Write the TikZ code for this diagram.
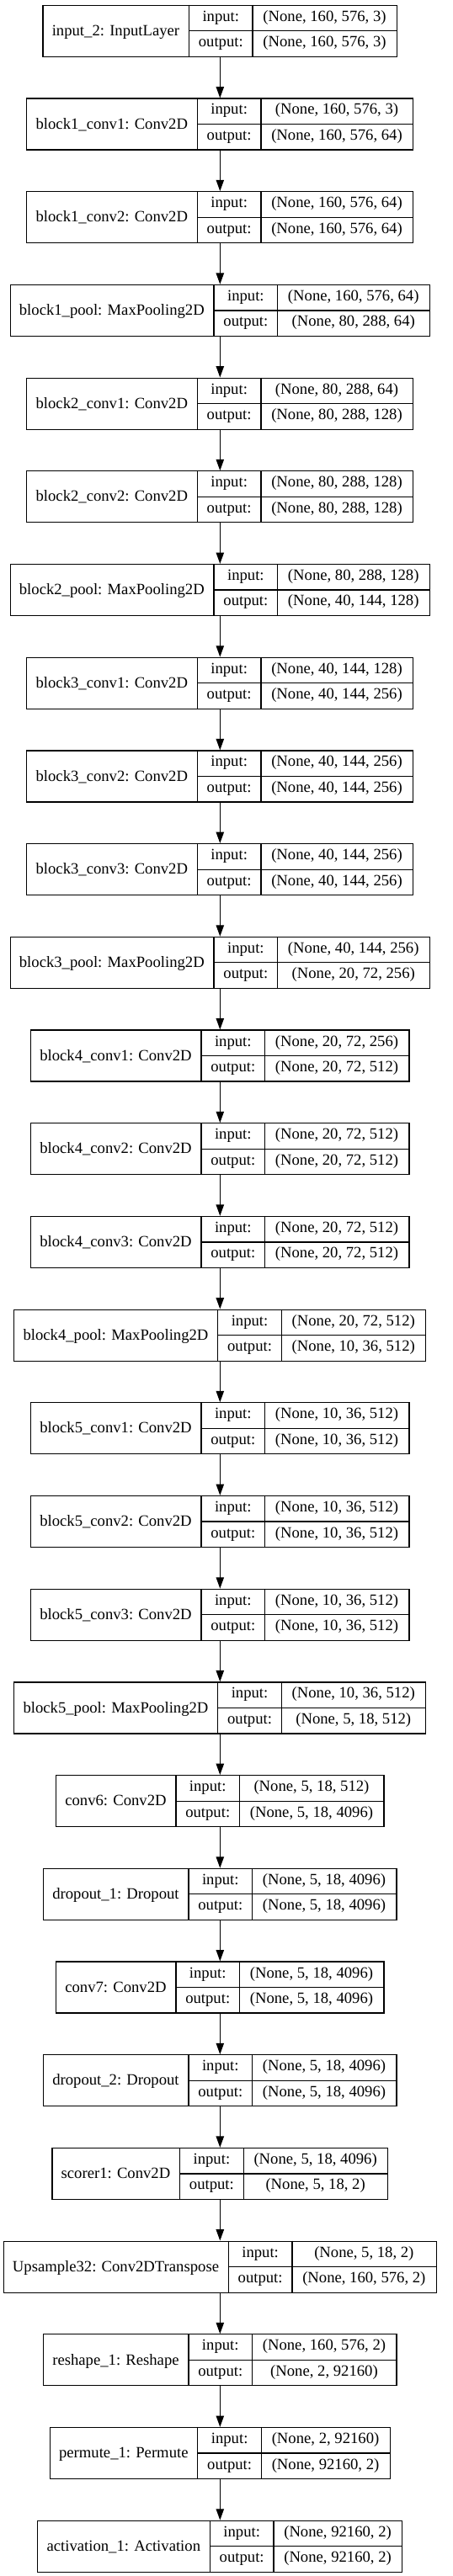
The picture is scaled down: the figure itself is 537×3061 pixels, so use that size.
\documentclass[tikz,border=0pt]{standalone}
\usepackage{fontspec}
\setmainfont{Liberation Serif}
\usepackage{tikz}
\usetikzlibrary{arrows.meta}

\newcommand\layerfont{\fontsize{14}{16.8}\selectfont}
\newlength\wname
\newlength\wio
\newlength\wval
\newlength\wtmp
\newlength\wmeas

% width of a text in the record font, plus padding
\newcommand\measure[3]{%
  \pgfinterruptpicture
    \settowidth\wmeas{\normalfont\layerfont #2}%
    \global#1=\dimexpr\wmeas+#3\relax
  \endpgfinterruptpicture}

% one record: id, top (px), name, input shape, output shape
\newcommand\layer[5]{%
  \measure\wname{#3}{17pt}%
  \measure\wio{output:}{17pt}%
  \measure\wval{#4}{18.5pt}%
  \measure\wtmp{#5}{18.5pt}%
  \ifdim\wtmp>\wval \global\wval=\wtmp\fi
  \node[record, minimum width=\wname+\wio+\wval] (#1) at (261.3,#2) {};
  \coordinate (#1-a) at ([xshift=\wname]#1.north west);
  \coordinate (#1-b) at ([xshift=\wname+\wio]#1.north west);
  \draw[rule] (#1-a) -- (#1-a |- #1.south);
  \draw[rule] (#1-b) -- (#1-b |- #1.south);
  \draw[rule] (#1-a |- #1.center) -- (#1.east);
  \node[nametxt] (#1-n) at ([xshift=.5\wname]#1.west) {#3};
  \node[celltxt] (#1-i) at ([xshift=.5\wio, yshift=-11.44pt]#1-a) {input:};
  \node[celltxt] (#1-o) at ([xshift=.5\wio, yshift=-34.31pt]#1-a) {output:};
  \node[celltxt] (#1-vi) at ([xshift=.5\wval, yshift=-11.44pt]#1-b) {#4};
  \node[celltxt] (#1-vo) at ([xshift=.5\wval, yshift=-34.31pt]#1-b) {#5};
}

\begin{document}
\begin{tikzpicture}[x=0.75pt, y=-0.75pt,
    record/.style={draw, line width=0.9pt, anchor=north, inner sep=0pt, minimum height=45.75pt},
    rule/.style={line width=0.9pt},
    nametxt/.style={inner sep=0pt, font=\layerfont, text height=11pt, text depth=2.5pt},
    celltxt/.style={inner sep=0pt, font=\layerfont, text height=9.5pt, text depth=3pt},
    flow/.style={-{Triangle[length=10pt, width=7pt]}, line width=0.9pt}]
    \useasboundingbox (0,0) rectangle (537,3061);

    \layer{inp}{5.7}{input\_2: InputLayer}{(None, 160, 576, 3)}{(None, 160, 576, 3)}
    \layer{b1c1}{116.4}{block1\_conv1: Conv2D}{(None, 160, 576, 3)}{(None, 160, 576, 64)}
    \layer{b1c2}{227.1}{block1\_conv2: Conv2D}{(None, 160, 576, 64)}{(None, 160, 576, 64)}
    \layer{b1p}{337.8}{block1\_pool: MaxPooling2D}{(None, 160, 576, 64)}{(None, 80, 288, 64)}
    \layer{b2c1}{448.5}{block2\_conv1: Conv2D}{(None, 80, 288, 64)}{(None, 80, 288, 128)}
    \layer{b2c2}{559.2}{block2\_conv2: Conv2D}{(None, 80, 288, 128)}{(None, 80, 288, 128)}
    \layer{b2p}{669.9}{block2\_pool: MaxPooling2D}{(None, 80, 288, 128)}{(None, 40, 144, 128)}
    \layer{b3c1}{780.6}{block3\_conv1: Conv2D}{(None, 40, 144, 128)}{(None, 40, 144, 256)}
    \layer{b3c2}{891.3}{block3\_conv2: Conv2D}{(None, 40, 144, 256)}{(None, 40, 144, 256)}
    \layer{b3c3}{1002.0}{block3\_conv3: Conv2D}{(None, 40, 144, 256)}{(None, 40, 144, 256)}
    \layer{b3p}{1112.7}{block3\_pool: MaxPooling2D}{(None, 40, 144, 256)}{(None, 20, 72, 256)}
    \layer{b4c1}{1223.4}{block4\_conv1: Conv2D}{(None, 20, 72, 256)}{(None, 20, 72, 512)}
    \layer{b4c2}{1334.1}{block4\_conv2: Conv2D}{(None, 20, 72, 512)}{(None, 20, 72, 512)}
    \layer{b4c3}{1444.8}{block4\_conv3: Conv2D}{(None, 20, 72, 512)}{(None, 20, 72, 512)}
    \layer{b4p}{1555.5}{block4\_pool: MaxPooling2D}{(None, 20, 72, 512)}{(None, 10, 36, 512)}
    \layer{b5c1}{1666.2}{block5\_conv1: Conv2D}{(None, 10, 36, 512)}{(None, 10, 36, 512)}
    \layer{b5c2}{1776.9}{block5\_conv2: Conv2D}{(None, 10, 36, 512)}{(None, 10, 36, 512)}
    \layer{b5c3}{1887.6}{block5\_conv3: Conv2D}{(None, 10, 36, 512)}{(None, 10, 36, 512)}
    \layer{b5p}{1998.3}{block5\_pool: MaxPooling2D}{(None, 10, 36, 512)}{(None, 5, 18, 512)}
    \layer{c6}{2109.0}{conv6: Conv2D}{(None, 5, 18, 512)}{(None, 5, 18, 4096)}
    \layer{d1}{2219.7}{dropout\_1: Dropout}{(None, 5, 18, 4096)}{(None, 5, 18, 4096)}
    \layer{c7}{2330.4}{conv7: Conv2D}{(None, 5, 18, 4096)}{(None, 5, 18, 4096)}
    \layer{d2}{2441.1}{dropout\_2: Dropout}{(None, 5, 18, 4096)}{(None, 5, 18, 4096)}
    \layer{sc}{2551.8}{scorer1: Conv2D}{(None, 5, 18, 4096)}{(None, 5, 18, 2)}
    \layer{up}{2662.5}{Upsample32: Conv2DTranspose}{(None, 5, 18, 2)}{(None, 160, 576, 2)}
    \layer{rs}{2773.2}{reshape\_1: Reshape}{(None, 160, 576, 2)}{(None, 2, 92160)}
    \layer{pm}{2883.9}{permute\_1: Permute}{(None, 2, 92160)}{(None, 92160, 2)}
    \layer{act}{2994.6}{activation\_1: Activation}{(None, 92160, 2)}{(None, 92160, 2)}

    \foreach \a/\b in {inp/b1c1, b1c1/b1c2, b1c2/b1p, b1p/b2c1, b2c1/b2c2, b2c2/b2p,
        b2p/b3c1, b3c1/b3c2, b3c2/b3c3, b3c3/b3p, b3p/b4c1, b4c1/b4c2, b4c2/b4c3,
        b4c3/b4p, b4p/b5c1, b5c1/b5c2, b5c2/b5c3, b5c3/b5p, b5p/c6, c6/d1, d1/c7,
        c7/d2, d2/sc, sc/up, up/rs, rs/pm, pm/act}
        \draw[flow] (\a.south) -- (\b.north);
\end{tikzpicture}
\end{document}
